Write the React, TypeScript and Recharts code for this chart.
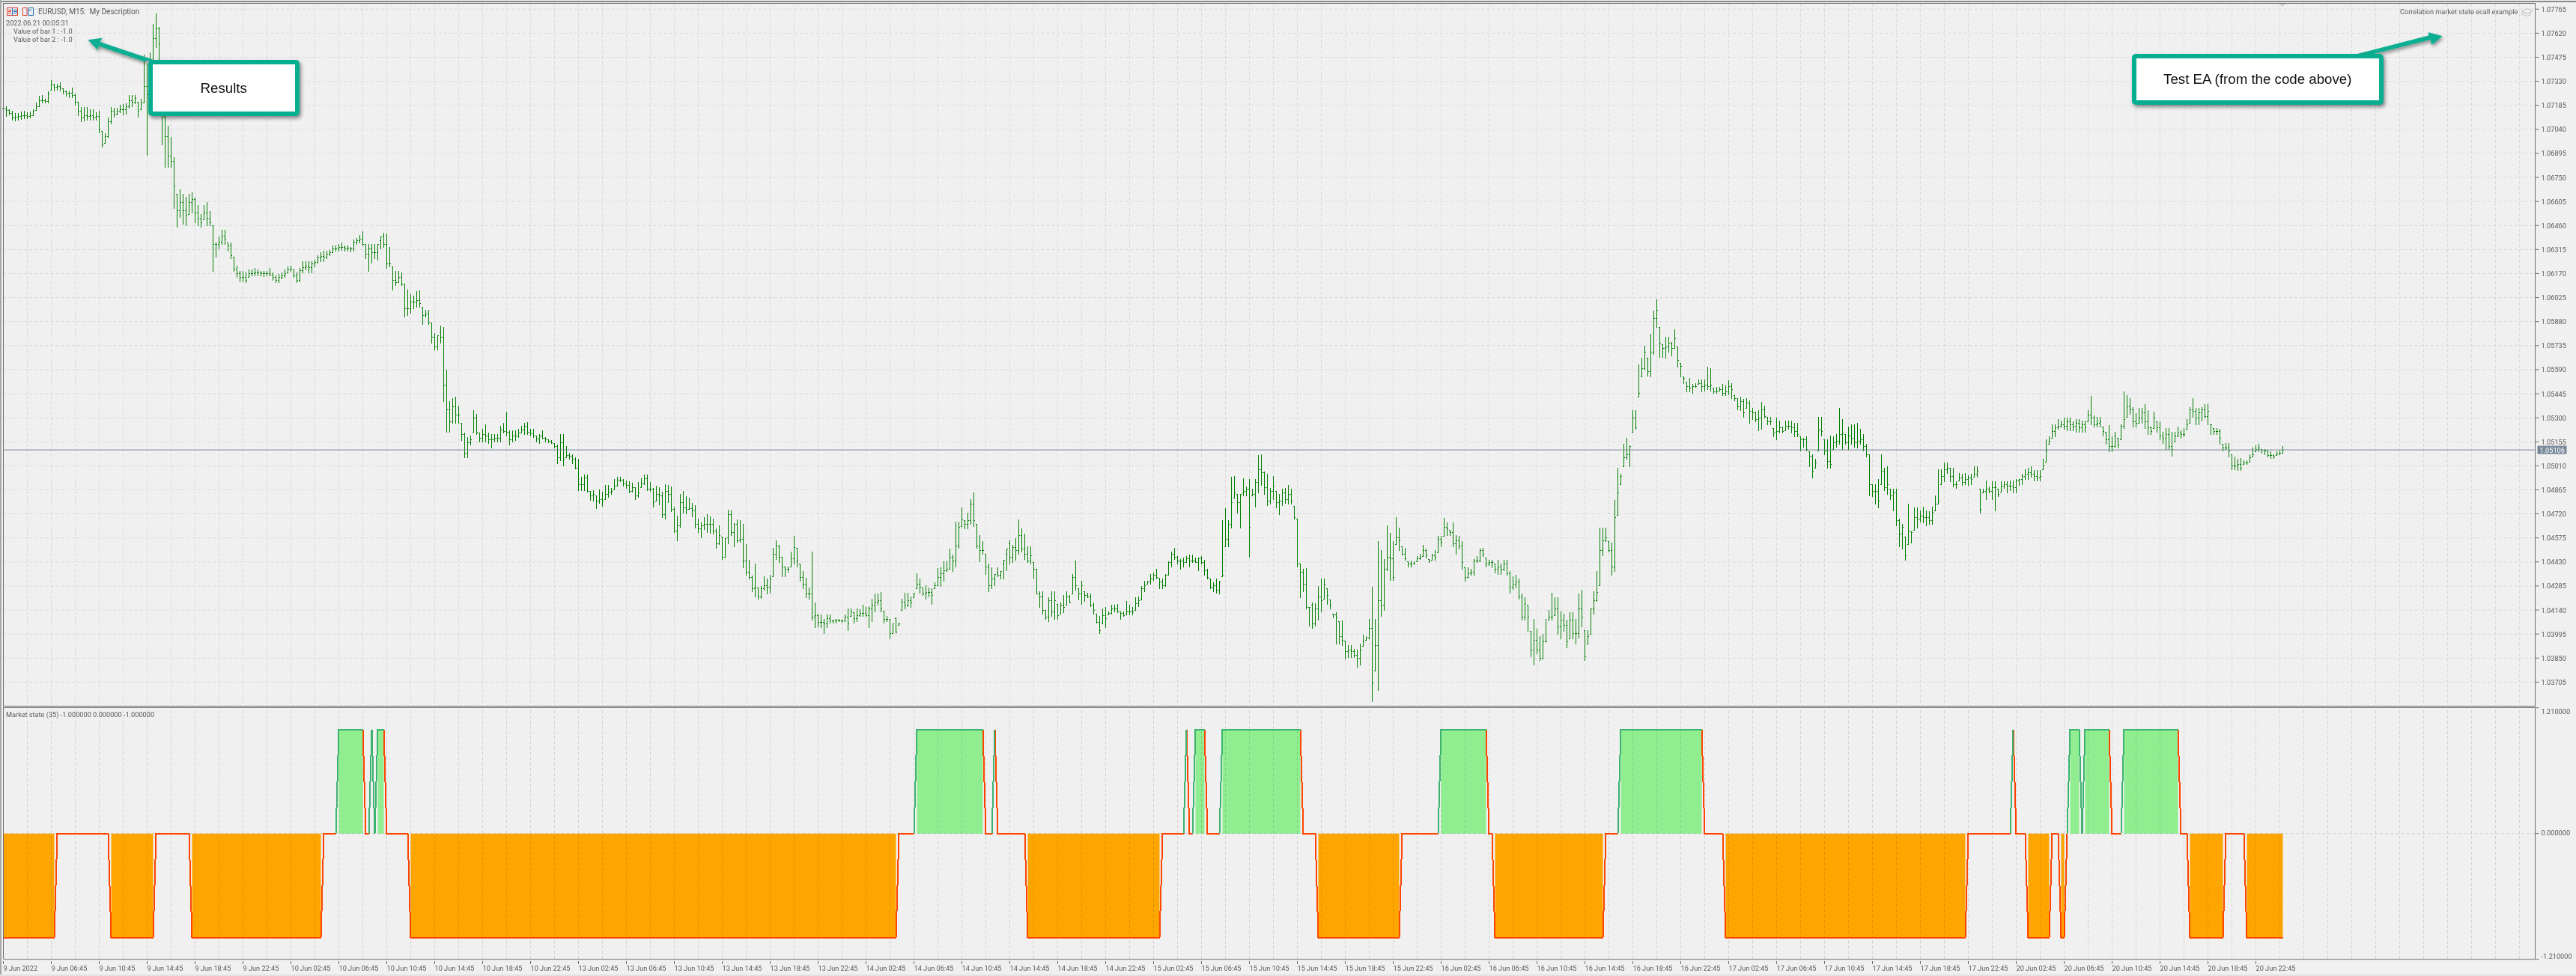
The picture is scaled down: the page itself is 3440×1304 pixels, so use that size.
import React from "react";
import { ComposedChart, Bar, Line, Area, XAxis, YAxis, CartesianGrid, ReferenceLine } from "recharts";

// Prices are in points above 1.00000 (5106 = 1.05106)
const highs = [
7180,7180,7160,7150,7138,7138,7147,7150,7143,7147,7160,7201,7242,7246,7224,7269,7337,7314,7314,7323,
7287,7274,7269,7292,7256,7206,7174,7174,7174,7160,7160,7143,7150,7030,7016,7111,7174,7170,7170,7188,
7192,7197,7246,7246,7246,7206,7224,7490,7436,7504,7675,7739,7657,7368,7120,7061,6994,6872,6651,6677,
6651,6634,6651,6660,6626,6582,6530,6582,6600,6548,6461,6358,6392,6435,6435,6358,6358,6271,6219,6185,
6185,6176,6193,6193,6202,6193,6185,6185,6185,6202,6176,6159,6168,6176,6193,6211,6219,6193,6176,6202,
6245,6245,6245,6245,6254,6280,6297,6306,6306,6314,6340,6340,6349,6358,6340,6340,6332,6375,6384,6401,
6423,6349,6349,6349,6349,6349,6392,6418,6410,6332,6211,6185,6185,6176,6107,6073,6047,6038,6064,6067,
5969,5952,5952,5874,5813,5796,5857,5848,5589,5399,5416,5425,5373,5269,5208,5183,5191,5347,5321,5208,
5234,5260,5208,5200,5200,5200,5252,5269,5338,5226,5226,5226,5234,5252,5269,5272,5234,5234,5191,5200,
5226,5183,5169,5165,5148,5139,5200,5200,5131,5088,5079,5062,5054,4942,4956,4956,4860,4863,4833,4867,
4852,4893,4896,4875,4930,4942,4942,4930,4920,4918,4908,4881,4912,4935,4956,4956,4912,4875,4888,4881,
4852,4897,4893,4885,4762,4708,4840,4858,4828,4816,4787,4772,4690,4667,4700,4717,4705,4690,4632,4649,
4581,4572,4745,4739,4662,4685,4682,4660,4539,4444,4346,4419,4276,4283,4343,4331,4351,4517,4559,4532,
4461,4404,4404,4494,4588,4517,4419,4374,4336,4276,4494,4186,4118,4111,4088,4111,4111,4080,4088,4088,
4080,4111,4148,4148,4126,4148,4145,4171,4156,4163,4208,4238,4241,4249,4136,4103,4088,4058,4096,4065,
4208,4246,4246,4223,4246,4362,4329,4276,4291,4276,4269,4306,4392,4397,4434,4434,4509,4472,4675,4675,
4758,4682,4728,4810,4848,4660,4592,4555,4479,4419,4397,4359,4397,4374,4442,4509,4562,4532,4573,4685,
4630,4600,4524,4524,4427,4389,4254,4254,4141,4216,4254,4254,4178,4186,4231,4254,4231,4359,4437,4269,
4314,4254,4246,4238,4186,4118,4103,4148,4156,4133,4171,4171,4178,4133,4133,4193,4171,4156,4216,4223,
4284,4314,4314,4359,4366,4389,4336,4329,4359,4434,4494,4517,4464,4449,4457,4467,4472,4472,4457,4457,
4464,4442,4389,4329,4306,4329,4314,4682,4753,4682,4946,4949,4840,4840,4934,4886,4931,4871,4931,5074,
5078,4976,4961,4878,4949,4856,4840,4871,4878,4893,4871,4768,4690,4419,4389,4392,4156,4186,4181,4284,
4329,4329,4269,4201,4118,4126,4073,4076,3953,3930,3930,3907,3900,3937,3990,3983,4088,4281,4088,4555,
4502,4449,4652,4607,4555,4700,4637,4524,4517,4434,4437,4434,4464,4479,4532,4509,4449,4479,4502,4585,
4588,4697,4667,4622,4667,4592,4585,4555,4397,4397,4389,4449,4464,4509,4517,4457,4442,4442,4419,4441,
4418,4441,4441,4373,4343,4351,4328,4238,4215,4170,4012,4087,4027,3982,3997,4087,4140,4245,4215,4215,
4132,4117,4080,4125,4125,4087,4238,4260,4020,4020,4147,4253,4373,4637,4637,4637,4554,4546,4802,4998,
4960,5141,5178,5133,5344,5344,5622,5660,5735,5660,5806,5946,6014,5848,5743,5788,5788,5758,5833,5728,
5630,5547,5517,5540,5502,5510,5532,5532,5532,5607,5600,5479,5487,5487,5502,5494,5525,5510,5434,5419,
5427,5412,5419,5404,5359,5336,5344,5397,5374,5306,5306,5239,5299,5284,5246,5284,5284,5284,5269,5269,
5186,5178,5186,5096,5081,5051,5306,5306,5171,5171,5193,5186,5201,5359,5291,5201,5246,5261,5261,5269,
5231,5201,5141,5081,4900,4900,4930,5081,4998,5005,4870,4870,4870,4689,4659,4584,4780,4614,4757,4757,
4742,4765,4742,4735,4765,4832,4990,4990,5028,5028,4998,4998,4915,4968,4960,4968,4953,4960,5005,5005,
4870,4870,4923,4885,4915,4915,4870,4915,4915,4915,4923,4923,4930,4930,4960,4990,4998,5005,4983,4983,
4983,5050,5171,5186,5261,5261,5291,5284,5299,5299,5299,5276,5291,5291,5284,5284,5344,5430,5314,5306,
5306,5246,5216,5254,5186,5216,5178,5261,5457,5434,5419,5366,5329,5359,5359,5381,5344,5246,5336,5276,
5276,5216,5239,5239,5216,5216,5246,5224,5239,5291,5366,5419,5359,5359,5366,5381,5381,5261,5239,5239,
5231,5141,5148,5148,5081,5066,5051,5058,5043,5043,5081,5118,5133,5141,5111,5111,5103,5096,5081,5096,
5103,5129];

const lows = [
7150,7120,7130,7097,7093,7097,7102,7107,7107,7111,7125,7156,7179,7201,7201,7201,7278,7274,7278,7274,
7256,7242,7233,7233,7188,7125,7088,7093,7097,7097,7097,7097,7021,6935,6957,6994,7075,7115,7130,7143,
7130,7134,7170,7179,7197,7115,7160,7201,6885,7210,7323,7535,7323,6948,6813,6813,6813,6565,6453,6513,
6470,6461,6530,6539,6479,6461,6453,6496,6461,6461,6185,6271,6323,6349,6349,6306,6263,6185,6150,6124,
6124,6116,6150,6159,6159,6159,6159,6154,6159,6159,6133,6116,6116,6142,6150,6176,6185,6150,6116,6124,
6176,6193,6176,6176,6211,6237,6245,6245,6263,6280,6297,6306,6309,6314,6306,6306,6302,6306,6349,6358,
6340,6263,6185,6237,6263,6254,6323,6332,6202,6211,6073,6098,6116,6098,5908,5917,5934,5960,5969,5969,
5865,5908,5865,5753,5710,5710,5753,5399,5217,5217,5269,5269,5269,5165,5062,5062,5139,5217,5200,5157,
5157,5157,5148,5122,5157,5157,5157,5208,5191,5139,5157,5165,5183,5208,5200,5200,5191,5183,5157,5148,
5174,5157,5152,5145,5122,5027,5044,5010,5062,5053,5027,4992,4863,4863,4863,4852,4802,4799,4754,4787,
4769,4810,4821,4840,4866,4888,4918,4890,4878,4851,4852,4810,4821,4881,4900,4863,4860,4765,4799,4777,
4702,4690,4792,4735,4610,4562,4641,4727,4724,4750,4705,4637,4611,4580,4629,4610,4607,4602,4517,4539,
4449,4459,4542,4592,4524,4551,4551,4399,4351,4328,4253,4223,4208,4212,4261,4241,4246,4341,4449,4427,
4344,4341,4371,4404,4419,4404,4314,4269,4216,4208,4080,4035,4040,4035,3998,4035,4065,4065,4065,4073,
4070,4073,4016,4103,4065,4073,4103,4103,4103,4035,4073,4133,4171,4133,4065,4073,3968,4001,4005,4050,
4141,4148,4163,4156,4216,4269,4246,4231,4208,4223,4178,4269,4291,4284,4314,4374,4389,4374,4404,4517,
4645,4630,4630,4660,4645,4517,4434,4479,4359,4254,4269,4291,4344,4329,4329,4381,4419,4427,4442,4479,
4494,4449,4427,4419,4336,4238,4156,4118,4088,4073,4103,4088,4088,4118,4126,4171,4186,4238,4261,4201,
4178,4193,4216,4163,4118,4065,3998,4058,4035,4111,4118,4133,4126,4088,4103,4111,4111,4111,4141,4163,
4201,4254,4299,4299,4321,4329,4269,4269,4284,4351,4404,4449,4419,4389,4404,4427,4404,4427,4427,4381,
4419,4351,4329,4269,4254,4246,4241,4344,4524,4524,4637,4818,4728,4637,4833,4833,4461,4833,4761,4848,
4893,4840,4773,4780,4810,4758,4720,4773,4788,4780,4780,4690,4404,4216,4254,4148,4043,4031,4043,4080,
4133,4208,4178,4148,4096,3937,3937,3930,3847,3855,3855,3855,3799,3810,3922,3960,3968,3591,3772,3659,
4103,4141,4381,4321,4321,4539,4502,4472,4442,4404,4401,4419,4434,4449,4464,4457,4427,4442,4442,4487,
4524,4585,4592,4592,4524,4479,4509,4389,4314,4336,4351,4351,4427,4434,4464,4404,4412,4397,4366,4358,
4358,4381,4351,4245,4268,4275,4208,4080,4080,4012,3862,3809,3877,3839,3847,3952,4080,4080,4110,3997,
3967,4012,3914,3967,3967,3937,3974,4042,3839,3937,3997,4117,4193,4290,4471,4554,4494,4351,4373,4712,
4900,5005,5050,5005,5216,5231,5427,5547,5592,5555,5547,5683,5848,5668,5668,5660,5698,5675,5720,5607,
5547,5510,5457,5457,5449,5487,5502,5457,5464,5472,5464,5449,5449,5464,5434,5434,5442,5419,5404,5352,
5344,5306,5359,5269,5291,5276,5224,5231,5299,5261,5261,5186,5171,5209,5209,5224,5231,5209,5186,5186,
5103,5126,5103,5005,4938,4998,5103,5193,5081,4998,4998,5111,5126,5141,5111,5141,5111,5141,5126,5118,
5141,5103,5066,4832,4825,4780,4757,4900,4862,4840,4810,4742,4652,4524,4509,4441,4539,4546,4622,4637,
4674,4667,4652,4659,4659,4742,4780,4900,4915,4968,4915,4885,4877,4923,4892,4900,4892,4900,4945,4945,
4727,4847,4810,4847,4810,4742,4825,4855,4877,4847,4862,4847,4847,4892,4900,4930,4930,4945,4923,4923,
4923,4990,5036,5141,5178,5186,5231,5246,5231,5224,5224,5224,5216,5216,5216,5216,5276,5261,5246,5246,
5246,5193,5141,5096,5096,5126,5118,5171,5239,5306,5321,5246,5246,5269,5269,5239,5201,5201,5239,5216,
5171,5148,5111,5111,5072,5156,5186,5178,5186,5231,5269,5306,5261,5261,5284,5299,5261,5201,5201,5201,
5141,5103,5111,5066,4990,4990,4983,4983,5020,5020,5036,5066,5096,5096,5088,5081,5066,5058,5058,5073,
5081,5088];

const closes = [
7165,7155,7140,7110,7115,7120,7125,7125,7120,7125,7150,7180,7215,7215,7210,7255,7310,7295,7300,7290,
7270,7260,7260,7245,7205,7150,7110,7125,7120,7125,7110,7120,7040,6950,7000,7090,7150,7135,7150,7160,
7160,7180,7215,7205,7230,7150,7200,7300,7250,7400,7590,7650,7560,7150,7000,6880,6850,6700,6550,6600,
6550,6520,6600,6620,6540,6500,6480,6540,6500,6480,6350,6350,6360,6400,6380,6340,6280,6200,6170,6150,
6150,6130,6170,6170,6175,6175,6170,6170,6170,6165,6150,6130,6150,6160,6170,6195,6200,6160,6130,6190,
6210,6215,6210,6230,6240,6265,6275,6270,6290,6300,6320,6320,6330,6330,6320,6325,6320,6360,6370,6380,
6350,6290,6320,6300,6300,6370,6400,6350,6230,6230,6130,6120,6150,6110,5960,5960,6000,6000,6010,5990,
5920,5930,5880,5790,5730,5820,5790,5500,5350,5280,5370,5320,5320,5200,5090,5150,5170,5300,5215,5180,
5200,5190,5170,5170,5180,5180,5230,5220,5215,5170,5190,5190,5210,5230,5250,5215,5205,5195,5175,5190,
5180,5170,5160,5150,5130,5060,5150,5050,5075,5070,5050,5000,4900,4900,4940,4860,4830,4840,4800,4810,
4800,4840,4855,4860,4890,4925,4925,4905,4895,4860,4880,4830,4850,4905,4935,4870,4870,4790,4840,4830,
4720,4860,4840,4750,4620,4650,4790,4760,4750,4755,4740,4660,4630,4650,4660,4660,4660,4620,4540,4590,
4460,4580,4720,4610,4660,4560,4570,4440,4370,4340,4270,4280,4220,4270,4290,4280,4330,4480,4530,4460,
4400,4390,4390,4450,4520,4440,4340,4300,4240,4240,4100,4110,4070,4070,4060,4090,4075,4075,4080,4075,
4075,4100,4060,4130,4090,4110,4120,4120,4110,4150,4170,4190,4200,4150,4085,4085,4000,4090,4010,4060,
4190,4170,4200,4190,4240,4300,4280,4240,4250,4250,4230,4290,4340,4360,4380,4390,4460,4440,4530,4640,
4690,4660,4680,4780,4680,4530,4500,4500,4400,4290,4330,4370,4350,4420,4480,4540,4460,4520,4500,4590,
4510,4480,4440,4470,4390,4240,4220,4140,4100,4200,4130,4200,4110,4170,4160,4220,4190,4340,4290,4240,
4290,4230,4220,4170,4140,4070,4020,4110,4090,4120,4150,4150,4130,4120,4110,4130,4130,4130,4180,4200,
4270,4290,4310,4330,4350,4340,4310,4290,4350,4430,4480,4460,4440,4440,4430,4450,4440,4440,4430,4450,
4430,4380,4340,4280,4290,4260,4310,4350,4570,4660,4790,4850,4790,4850,4860,4870,4640,4840,4910,4990,
4970,4880,4800,4860,4890,4790,4800,4850,4810,4840,4800,4700,4420,4370,4300,4160,4170,4060,4150,4220,
4200,4300,4230,4170,4115,4100,3980,3960,3890,3900,3890,3870,3850,3900,3950,3975,4030,3700,3930,4200,
4170,4390,4460,4450,4340,4580,4560,4480,4450,4420,4420,4425,4450,4460,4500,4470,4440,4470,4460,4570,
4550,4640,4630,4610,4540,4560,4530,4430,4340,4360,4370,4440,4440,4500,4480,4420,4430,4430,4390,4400,
4390,4420,4360,4280,4300,4310,4220,4100,4180,4100,3900,3960,3900,3850,3950,3950,4100,4100,4150,4040,
4080,4050,3950,4080,4000,4000,4150,4100,3860,3980,4150,4200,4250,4500,4560,4580,4500,4400,4700,4850,
4950,5060,5080,5130,5300,5240,5450,5600,5700,5580,5700,5900,5950,5750,5720,5730,5750,5720,5780,5650,
5610,5540,5490,5480,5490,5490,5510,5490,5500,5490,5500,5460,5465,5470,5450,5460,5490,5470,5420,5370,
5400,5330,5390,5340,5330,5290,5300,5350,5310,5280,5280,5210,5220,5240,5220,5250,5250,5240,5220,5200,
5170,5170,5110,5070,4980,5030,5230,5220,5100,5040,5020,5150,5160,5200,5210,5150,5190,5180,5150,5160,
5170,5130,5080,4900,4860,4860,4800,4980,4880,4900,4830,4850,4680,4600,4640,4470,4620,4610,4700,4690,
4710,4700,4700,4680,4730,4780,4800,4950,4990,5000,4950,4900,4900,4940,4910,4930,4940,4930,4960,4980,
4750,4860,4870,4860,4880,4880,4840,4890,4900,4890,4890,4880,4920,4930,4950,4960,4970,4960,4950,4940,
4950,5010,5100,5160,5220,5240,5250,5260,5250,5280,5260,5250,5270,5240,5260,5240,5320,5300,5260,5270,
5280,5220,5170,5130,5130,5190,5140,5250,5290,5370,5350,5280,5270,5300,5330,5280,5240,5220,5300,5240,
5190,5180,5200,5130,5110,5190,5210,5200,5200,5260,5350,5340,5300,5330,5350,5310,5340,5280,5220,5220,
5180,5120,5120,5100,5010,5010,5020,5000,5030,5030,5060,5080,5110,5120,5105,5100,5075,5075,5065,5085,
5090,5106];

const lastPrice = 5106;
const priceTicks = [7765,7620,7475,7330,7185,7040,6895,6750,6605,6460,6315,6170,6025,5880,5735,5590,5445,5300,5155,5010,4865,4720,4575,4430,4285,4140,3995,3850,3705];
const stateTicks = [1.21, 0, -1.21];

// Market state indicator, as runs: value and number of bars
const stateRunValues = [-1,0,-1,0,-1,0,1,0,1,0,1,0,-1,0,1,0,1,0,-1,0,1,0,1,0,1,0,-1,0,1,0,-1,0,1,0,-1,0,1,0,-1,0,-1,0,1,0,1,0,1,0,-1,0,-1];
const stateRunLengths = [18,18,15,12,44,5,9,2,1,1,3,8,163,6,23,3,1,10,45,8,1,2,4,5,27,5,28,13,16,2,37,5,28,7,81,15,1,4,8,3,2,1,4,1,9,4,19,3,12,7,13];

const timeLabels = [
"9 Jun 2022","9 Jun 06:45","9 Jun 10:45","9 Jun 14:45","9 Jun 18:45","9 Jun 22:45",
"10 Jun 02:45","10 Jun 06:45","10 Jun 10:45","10 Jun 14:45","10 Jun 18:45","10 Jun 22:45",
"13 Jun 02:45","13 Jun 06:45","13 Jun 10:45","13 Jun 14:45","13 Jun 18:45","13 Jun 22:45",
"14 Jun 02:45","14 Jun 06:45","14 Jun 10:45","14 Jun 14:45","14 Jun 18:45","14 Jun 22:45",
"15 Jun 02:45","15 Jun 06:45","15 Jun 10:45","15 Jun 14:45","15 Jun 18:45","15 Jun 22:45",
"16 Jun 02:45","16 Jun 06:45","16 Jun 10:45","16 Jun 14:45","16 Jun 18:45","16 Jun 22:45",
"17 Jun 02:45","17 Jun 06:45","17 Jun 10:45","17 Jun 14:45","17 Jun 18:45","17 Jun 22:45",
"20 Jun 02:45","20 Jun 06:45","20 Jun 10:45","20 Jun 14:45","20 Jun 18:45","20 Jun 22:45"];

const BARS_ON_AXIS = 845.25;
const LABEL_EVERY = 16;
const GRID_EVERY = 8;
const gridTicks = Array.from({ length: 106 }, (_, k) => k * GRID_EVERY);

const states: number[] = stateRunValues.flatMap((v, k) => Array(stateRunLengths[k]).fill(v));

const priceRows = highs.map((h, i) => ({
  i, high: h, low: lows[i], close: closes[i], open: i ? closes[i - 1] : closes[0],
}));

const stateRows = states.map((s, i) => {
  const next = states[i + 1];
  return {
    i,
    orange: s === -1 ? -1 : null,
    green: s === 1 ? 1 : null,
    upLine: s === 1 || next === 1 ? s : null,
    downLine: s !== 1 || next !== 1 ? s : null,
  };
});

const AXIS = "#6e6e6e";
const GRID = "#d9d9d9";
const TXT = "#5a5a5a";
const TEAL = "#07ae91";
const UI = "Roboto, 'Noto Sans', sans-serif";
const AXIS_FONT = 9.2;

function OhlcBar(props: any) {
  const { x, y, width, height, payload } = props;
  const top = Math.min(y, y + height);
  const h = Math.abs(height);
  const span = payload.high - payload.low || 1;
  const at = (v: number) => {
    const c = Math.max(payload.low, Math.min(payload.high, v));
    return Math.round(top + ((payload.high - c) / span) * h) + 0.5;
  };
  const cx = Math.round(x + width / 2) + 0.5;
  return (
    <g stroke="#008000" strokeWidth={1} shapeRendering="crispEdges">
      <line x1={cx} x2={cx} y1={top} y2={top + h + 1} />
      <line x1={cx - 1.5} x2={cx} y1={at(payload.open)} y2={at(payload.open)} />
      <line x1={cx} x2={cx + 1.5} y1={at(payload.close)} y2={at(payload.close)} />
    </g>
  );
}

function PriceTick(props: any) {
  const { x, y, payload } = props;
  return (
    <text x={x + 1} y={y} dy={3.5} fontFamily={UI} fontSize={AXIS_FONT} fill={TXT}>
      {(1 + payload.value / 100000).toFixed(5)}
    </text>
  );
}

function StateTick(props: any) {
  const { x, y, payload } = props;
  const dy = payload.value > 0 ? 8 : payload.value < 0 ? -1 : 2.5;
  return (
    <text x={x + 1} y={y} dy={dy} fontFamily={UI} fontSize={AXIS_FONT} fill={TXT}>
      {payload.value.toFixed(6)}
    </text>
  );
}

function TimeTick(props: any) {
  const { x, y, payload } = props;
  if (payload.value % LABEL_EVERY !== 0) return null;
  const label = timeLabels[payload.value / LABEL_EVERY];
  if (!label) return null;
  return (
    <g>
      <line x1={x} x2={x} y1={y} y2={y + 4} stroke={AXIS} shapeRendering="crispEdges" />
      <text x={x} y={y + 13} fontFamily={UI} fontSize={AXIS_FONT} fill={TXT}>{label}</text>
    </g>
  );
}

function LastPriceTag(props: any) {
  const { viewBox } = props;
  const right = viewBox.x + viewBox.width;
  return (
    <g>
      <rect x={right + 3} y={viewBox.y - 5.5} width={39} height={11} fill="#778899" />
      <text x={right + 6} y={viewBox.y + 3.5} fontFamily={UI} fontSize={AXIS_FONT} fill="#fff">
        {(1 + lastPrice / 100000).toFixed(5)}
      </text>
    </g>
  );
}

function MainChart() {
  return (
    <ComposedChart width={3440} height={943} data={priceRows} margin={{ top: 4.5, right: 0, bottom: 0, left: 4.5 }}>
      <CartesianGrid stroke={GRID} strokeDasharray="4 3" />
      <XAxis dataKey="i" type="number" domain={[0, BARS_ON_AXIS]} ticks={gridTicks} hide height={0} />
      <YAxis
        orientation="right" type="number" domain={[3562, 7800]} ticks={priceTicks} width={54.5} interval={0}
        axisLine={{ stroke: AXIS }} tickLine={{ stroke: AXIS }} tickSize={5} tick={<PriceTick />} allowDataOverflow
      />
      <Bar dataKey={(d: any) => [d.low, d.high]} barSize={1} shape={<OhlcBar />} isAnimationActive={false} />
      <ReferenceLine y={lastPrice} stroke="#778899" strokeWidth={1} label={(p: any) => <LastPriceTag {...p} />} />
    </ComposedChart>
  );
}

const multiply = { mixBlendMode: "multiply" as const };

function StateChart() {
  return (
    <ComposedChart width={3440} height={359} data={stateRows} margin={{ top: 0.7, right: 0, bottom: 0, left: 4.5 }}>
      <Area dataKey="orange" stroke="none" fill="#ffa500" fillOpacity={1} baseValue={0} dot={false} activeDot={false} isAnimationActive={false} />
      <Area dataKey="green" stroke="none" fill="#90ee90" fillOpacity={1} baseValue={0} dot={false} activeDot={false} isAnimationActive={false} />
      <XAxis
        dataKey="i" type="number" domain={[0, BARS_ON_AXIS]} ticks={gridTicks} interval={0} height={22.3}
        axisLine={{ stroke: AXIS }} tickLine={false} tickSize={0} tick={<TimeTick />}
      />
      <YAxis
        orientation="right" type="number" domain={[-1.21, 1.21]} ticks={stateTicks} width={54.5} interval={0}
        axisLine={{ stroke: AXIS }} tickLine={{ stroke: AXIS }} tickSize={5} tick={<StateTick />}
      />
      {gridTicks.map((t) => (
        <ReferenceLine key={t} x={t} stroke="#e0e0e0" strokeDasharray="4 3" style={multiply} />
      ))}
      <ReferenceLine y={0} stroke="#e0e0e0" strokeDasharray="4 3" style={multiply} />
      <Line dataKey="downLine" stroke="#ff4500" strokeWidth={2} dot={false} activeDot={false} connectNulls={false} isAnimationActive={false} shapeRendering="crispEdges" />
      <Line dataKey="upLine" stroke="#3cb371" strokeWidth={2} dot={false} activeDot={false} connectNulls={false} isAnimationActive={false} shapeRendering="crispEdges" />
    </ComposedChart>
  );
}

const abs = (left: number, top: number, extra: React.CSSProperties = {}): React.CSSProperties => ({ position: "absolute", left, top, ...extra });

function Callout({ left, top, width, height, text }: { left: number; top: number; width: number; height: number; text: string }) {
  return (
    <div style={abs(left, top, {
      width, height, boxSizing: "border-box", border: `6px solid ${TEAL}`, borderRadius: 5, background: "#fff",
      boxShadow: "2px 3px 5px rgba(0,0,0,.45)", display: "flex", alignItems: "center", justifyContent: "center",
      fontFamily: "'Liberation Sans', Arial, sans-serif", fontSize: 18.7, color: "#111",
    })}>{text}</div>
  );
}

export default function App() {
  const label = { fontFamily: UI, fontSize: 9.2, color: TXT, whiteSpace: "pre" as const, lineHeight: "11px" };
  return (
    <div style={abs(0, 0, { width: 3440, height: 1304, background: "#f0f0f0", overflow: "hidden" })}>
      <div style={abs(0, 1, { width: 3440, height: 1.5, background: "#8a8a8a" })} />
      <div style={abs(0, 0, { width: 1.5, height: 1302, background: "#a8a8a8" })} />
      <div style={abs(0, 1302, { width: 3440, height: 2, background: "#e2e2e2" })} />

      <div style={abs(0, 0)}><MainChart /></div>
      <div style={abs(0, 945)}><StateChart /></div>

      <div style={abs(3.5, 4, { width: 3382, height: 939.5, boxSizing: "border-box", borderTop: `1px solid ${AXIS}`, borderLeft: `1px solid ${AXIS}`, borderBottom: `1px solid ${AXIS}` })} />
      <div style={abs(3.5, 945, { width: 3382, height: 336, boxSizing: "border-box", borderTop: `1px solid ${AXIS}`, borderLeft: `1px solid ${AXIS}` })} />

      <div style={abs(51, 10, { ...label, fontSize: 10 })}>EURUSD, M15:  My Description</div>
      <div style={abs(8, 25, label)}>2022.06.21 00:05:31</div>
      <div style={abs(18, 36, label)}>Value of bar 1 : -1.0</div>
      <div style={abs(18, 47, label)}>Value of bar 2 : -1.0</div>
      <div style={abs(3205, 10, label)}>Correlation market state ecall example</div>
      <div style={abs(8, 949, label)}>Market state (35) -1.000000 0.000000 -1.000000</div>

      <svg width={3440} height={1304} style={abs(0, 0, { pointerEvents: "none" })}>
        <defs>
          <filter id="sh" x="-20%" y="-50%" width="140%" height="200%">
            <feDropShadow dx="1.5" dy="3" stdDeviation="2" floodColor="#000" floodOpacity="0.4" />
          </filter>
        </defs>
        <g fill="none" strokeWidth={1}>
          <rect x={9.5} y={10.5} width={14} height={10} stroke="#e03c31" />
          <line x1={16.5} x2={16.5} y1={10.5} y2={20.5} stroke="#1f6fb5" />
          <path d="M11 13.5H15M11 15.5H15M11 17.5H15" stroke="#e03c31" />
          <path d="M18 13.5H23M18 15.5H23M18 17.5H23" stroke="#1f6fb5" />
          <path d="M30.5 10.5H36V20.5H30.5Z" stroke="#e03c31" />
          <path d="M38 10.5H44.5V20.5H38Z M38 13.5H42" stroke="#1f6fb5" />
        </g>
        <polygon points="3044,5 3052,5 3048,9" fill="#cfcfcf" />
        <g fill="none" stroke="#c4c4c4" strokeWidth={1}>
          <path d="M3368 15L3375 11L3382 15L3375 18Z" />
          <path d="M3371 17V20Q3375 23 3379 20V17" />
          <line x1={3368} x2={3368} y1={15} y2={21} />
        </g>
        <polygon filter="url(#sh)" fill={TEAL} points="117.3,53.3 136.7,50.7 133.5,56 205,80 192,82 131.5,61.5 130.7,66.7" />
        <polygon filter="url(#sh)" fill={TEAL} points="3148,72 3243,47.5 3243.3,43.3 3261.7,48.3 3247.3,60 3245.5,53 3170,72" />
      </svg>

      <Callout left={198} top={80} width={201.5} height={75} text="Results" />
      <Callout left={2847} top={71.5} width={335.5} height={68.5} text="Test EA (from the code above)" />
    </div>
  );
}
